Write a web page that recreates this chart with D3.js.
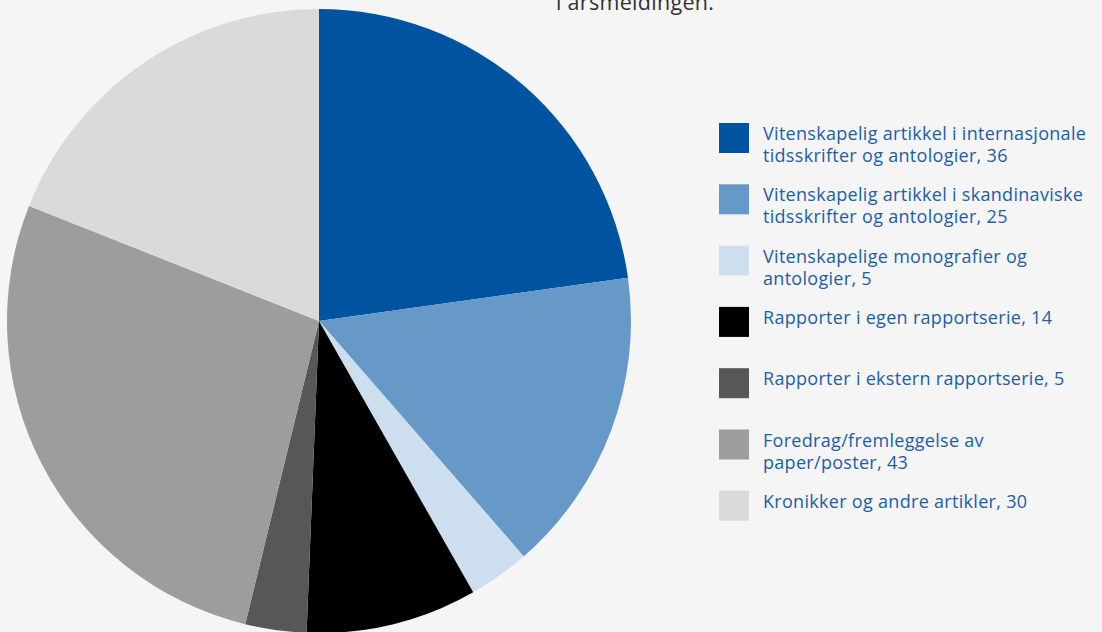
<!DOCTYPE html>
<html>
<head>
<meta charset="utf-8">
<script src="https://cdn.jsdelivr.net/npm/d3@7"></script>
<style>
  body { margin: 0; background: #f5f5f5; }
  #chart { width: 1102px; height: 632px; }
</style>
</head>
<body>
<div id="chart"></div>
<script>
// categories and values
const categories = [
    "Vitenskapelig artikkel i internasjonale|tidsskrifter og antologier, 36",
    "Vitenskapelig artikkel i skandinaviske|tidsskrifter og antologier, 25",
    "Vitenskapelige monografier og|antologier, 5",
    "Rapporter i egen rapportserie, 14",
    "Rapporter i ekstern rapportserie, 5",
    "Foredrag/fremleggelse av|paper/poster, 43",
    "Kronikker og andre artikler, 30"
];
const values = [36, 25, 5, 14, 5, 43, 30];
const colors = ["#0053a1", "#6699c8", "#cddfee", "#000000", "#575756", "#9d9d9c", "#dadada"];

const width = 1102, height = 632;
const svg = d3.select("#chart")
    .append("svg")
    .attr("width", width)
    .attr("height", height);

// caption fragment cut off at the top
svg.append("text")
    .attr("x", 556)
    .attr("y", 10)
    .style("font-family", "'Open Sans', sans-serif")
    .style("font-size", "21.5px")
    .style("letter-spacing", "0.3px")
    .style("fill", "#333")
    .text("i årsmeldingen.");

const data = values.map((v, i) => ({ value: v, label: categories[i], color: colors[i] }));

const pie = d3.pie().sort(null).value(d => d.value);
const arc = d3.arc().innerRadius(0).outerRadius(312);

const g = svg.append("g").attr("transform", "translate(319, 321)");
g.selectAll("path")
    .data(pie(data))
    .enter()
    .append("path")
    .attr("d", arc)
    .attr("fill", d => d.data.color);

// legend
const legend = svg.append("g").attr("transform", "translate(719, 123)");
const item = legend.selectAll("g")
    .data(data)
    .enter()
    .append("g")
    .attr("transform", (d, i) => `translate(0, ${i * 61.3})`);

item.append("rect")
    .attr("width", 30)
    .attr("height", 30)
    .attr("fill", d => d.color);

item.append("text")
    .attr("x", 44)
    .attr("y", 17)
    .style("font-family", "'Open Sans', sans-serif")
    .style("font-size", "18px")
    .style("letter-spacing", "0.3px")
    .style("fill", "#1b5eaa")
    .selectAll("tspan")
    .data(d => d.label.split("|"))
    .enter()
    .append("tspan")
    .attr("x", 44)
    .attr("dy", (d, i) => i === 0 ? 0 : 22)
    .text(d => d);
</script>
</body>
</html>
